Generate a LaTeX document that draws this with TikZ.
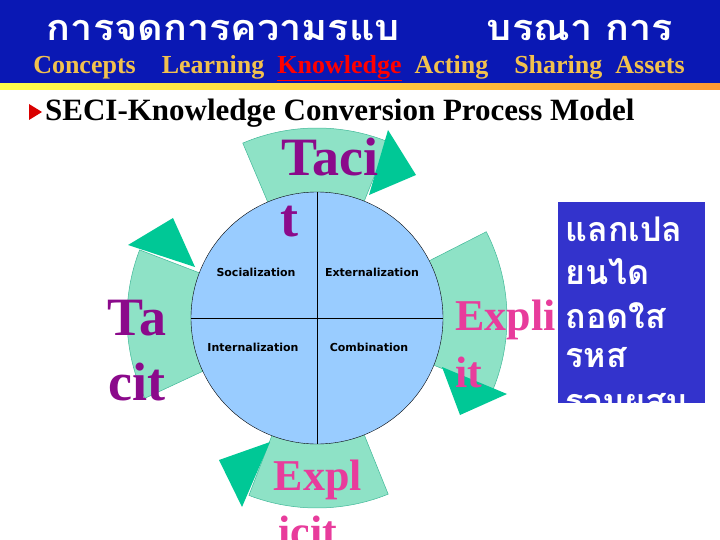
\documentclass[tikz,border=0pt]{standalone}
\usepackage{fontspec}
\setmainfont{Liberation Serif}
\newfontfamily\thaifont[Script=Thai]{Loma}
\newfontfamily\tahoma{DejaVu Sans}
\begin{document}
\begin{tikzpicture}[x=1pt,y=-1pt,
  band/.style={fill=bandc,draw=bandd,line width=0.5pt},
  head/.style={fill=arrc},
  quad/.style={font=\tahoma\fontsize{11}{12}\selectfont\bfseries,anchor=center},
  big/.style={font=\fontsize{54}{60}\selectfont\bfseries,anchor=center},
  bigp/.style={font=\fontsize{44}{50}\selectfont\bfseries,anchor=center,text=pinkx},
  thai/.style={font=\thaifont\fontsize{34}{40}\selectfont\bfseries,text=white,anchor=west}]
\definecolor{bandc}{HTML}{8EE2C6}
\definecolor{bandd}{HTML}{40B898}
\definecolor{arrc}{HTML}{00C896}
\definecolor{circ}{HTML}{99CCFF}
\definecolor{hblue}{HTML}{0A18B4}
\definecolor{gold}{HTML}{F2C14E}
\definecolor{purp}{HTML}{8B0A8B}
\definecolor{pinkx}{HTML}{E83C9C}
\definecolor{boxb}{HTML}{3333CC}
\useasboundingbox (0,0) rectangle (720,540);
\fill[white] (0,0) rectangle (720,540);
% header
\fill[hblue] (0,0) rectangle (720,84);
\shade[left color=yellow!70, right color=orange!80] (0,84) rectangle (720,90);
\node[font=\thaifont\fontsize{36}{36}\selectfont\bfseries,text=white,inner sep=0,xscale=1.1] (title) at (360,30) {การจดการความรแบ\hspace{2.2em}บรณา การ};
\node[font=\fontsize{26}{28}\selectfont\bfseries,text=gold,inner sep=0] (sub) at (359,68) {Concepts\quad Learning\enspace \textcolor{red}{\underline{Knowledge}}\enspace Acting\quad Sharing\enspace Assets};
\fill[red!85!black] (29,104) -- (42,112) -- (29,120) -- cycle;
\node[font=\fontsize{31}{34}\selectfont\bfseries,anchor=west,inner sep=0] (seci) at (45,113) {SECI-Knowledge Conversion Process Model};
% bands
\coordinate (c) at (317,318);
\fill[band] (c) -- ++(111:190) arc[start angle=111,end angle=68,radius=190] -- cycle;
\fill[band] (c) -- ++(22:190) arc[start angle=22,end angle=-27,radius=190] -- cycle;
\fill[band] (c) -- ++(-68:190) arc[start angle=-68,end angle=-113,radius=190] -- cycle;
\fill[band] (c) -- ++(-159:190) arc[start angle=-159,end angle=-205,radius=190] -- cycle;
\fill[head] (388,130) -- (416,175) -- (369,195) -- cycle;
\fill[head] (442,367) -- (507,394) -- (460,415) -- cycle;
\fill[head] (219,460) -- (270,442) -- (242,507) -- cycle;
\fill[head] (128,245) -- (173,218) -- (195,267) -- cycle;
% circle
\node[circle,draw=black,fill=circ,minimum size=252pt,inner sep=0] (circ) at (c) {};
\draw (circ.north) -- (circ.south);
\draw (circ.west) -- (circ.east);
\node[quad] (soc) at (256,272) {Socialization};
\node[quad] (ext) at (372,272) {Externalization};
\node[quad] (int) at (253,347) {Internalization};
\node[quad] (com) at (369,347) {Combination};
% big labels
\node[big,text=purp] (t1) at (330,157) {Taci};
\node[big,text=purp] (t2) at (289,222) {t};
\node[big,text=purp] (t3) at (137,318) {Ta};
\node[big,text=purp] (t4) at (137,382) {cit};
\node[bigp] (e1) at (318,480) {Expl};
\node[bigp,anchor=north] (e2) at (308,512) {icit};
\node[bigp,anchor=west,inner sep=0] (e3) at (455,320) {Expli};
\node[bigp,anchor=west,inner sep=0] (e4) at (455,372) {it};
% box
\fill[boxb] (558,202) rectangle (705,403);
\begin{scope}
\clip (558,202) rectangle (705,403);
\node[thai] (th1) at (562,229) {แลกเปล};
\node[thai] (th2) at (562,272) {ยนได};
\node[thai] (th3) at (562,316) {ถอดใส};
\node[thai] (th4) at (562,358) {รหส};
\node[thai] (th5) at (562,404) {รวมผสม};
\end{scope}
\end{tikzpicture}
\end{document}
